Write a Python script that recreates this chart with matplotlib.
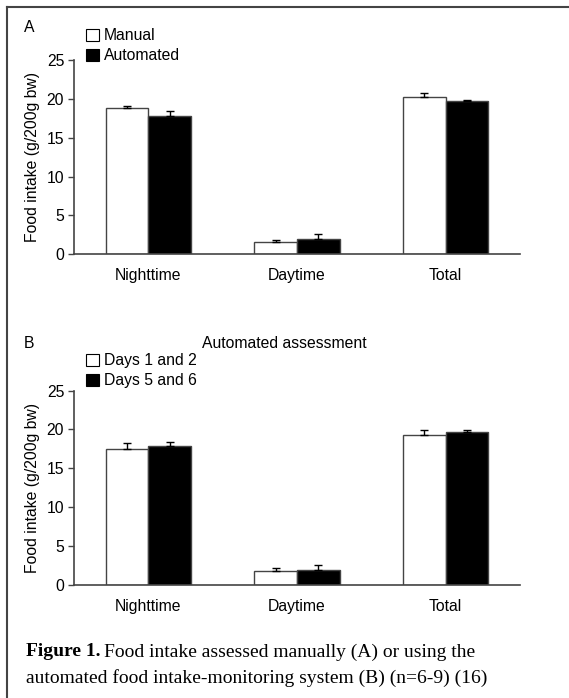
import matplotlib.pyplot as plt
import numpy as np
from matplotlib.patches import Patch
from matplotlib.lines import Line2D

plt.rcParams['font.family'] = ['Liberation Sans', 'DejaVu Sans']

categories = ['Nighttime', 'Daytime', 'Total']

# panel A: manual vs automated
a_manual = [18.8, 1.5, 20.3]
a_manual_err = [0.35, 0.3, 0.5]
a_auto = [17.8, 1.9, 19.7]
a_auto_err = [0.7, 0.7, 0.25]

# panel B: automated, days 1-2 vs days 5-6
b_days12 = [17.5, 1.8, 19.35]
b_days12_err = [0.8, 0.4, 0.6]
b_days56 = [17.85, 1.9, 19.7]
b_days56_err = [0.6, 0.7, 0.25]

yticks = [0, 5, 10, 15, 20, 25]

edge = '#444444'
fs = 11.3

fig = plt.figure(figsize=(5.69, 6.98), dpi=100)


def panel(ax, v1, e1, v2, e2):
    x = np.arange(len(categories))
    w = 0.287
    ax.bar(x - w / 2, v1, w, color='white', edgecolor=edge, linewidth=1.0,
           yerr=[np.zeros(3), e1], capsize=3,
           error_kw=dict(ecolor='black', elinewidth=1.0, capthick=1.0))
    ax.bar(x + w / 2, v2, w, color='black', edgecolor=edge, linewidth=1.0,
           yerr=[np.zeros(3), e2], capsize=3,
           error_kw=dict(ecolor='black', elinewidth=1.0, capthick=1.0))
    ax.set_xlim(-0.5, 2.5)
    ax.set_ylim(0, 25)
    ax.set_yticks(yticks)
    ax.set_xticks(x)
    ax.set_xticklabels(categories, fontsize=fs)
    ax.tick_params(axis='x', length=0, pad=10)
    ax.tick_params(axis='y', length=4, width=1, color=edge, labelsize=fs, pad=3)
    for s in ['top', 'right']:
        ax.spines[s].set_visible(False)
    for s in ['left', 'bottom']:
        ax.spines[s].set_color(edge)
        ax.spines[s].set_linewidth(1.2)
    ax.set_ylabel('Food intake (g/200g bw)', fontsize=fs, labelpad=5)
    handles = [Patch(facecolor='white', edgecolor='black', linewidth=0.8),
               Patch(facecolor='black', edgecolor='black', linewidth=0.8)]
    return handles


leg_kw = dict(loc='upper left', frameon=False, fontsize=fs,
              handlelength=0.8, handleheight=0.8, handletextpad=0.35,
              labelspacing=0.35, borderpad=0, borderaxespad=0)

axA = fig.add_axes([0.130, 0.636, 0.784, 0.2775])
hA = panel(axA, a_manual, a_manual_err, a_auto, a_auto_err)
fig.legend(hA, ['Manual', 'Automated'],
           bbox_to_anchor=(86 / 569, 1 - 28 / 698), **leg_kw)

axB = fig.add_axes([0.130, 0.1623, 0.784, 0.278])
hB = panel(axB, b_days12, b_days12_err, b_days56, b_days56_err)
fig.legend(hB, ['Days 1 and 2', 'Days 5 and 6'],
           bbox_to_anchor=(86 / 569, 1 - 353 / 698), **leg_kw)

fig.text(24 / 569, 1 - 27 / 698, 'A', fontsize=fs, va='center')
fig.text(24 / 569, 1 - 343 / 698, 'B', fontsize=fs, va='center')
fig.text(284 / 569, 1 - 343 / 698, 'Automated assessment', fontsize=fs,
         ha='center', va='center')

# caption
serif = ['Liberation Serif', 'DejaVu Serif']
cap_fs = 14
t1 = fig.text(26 / 569, 1 - 652 / 698, 'Figure 1.', fontsize=cap_fs,
              family=serif, weight='bold', va='center')
fig.canvas.draw()
bb = t1.get_window_extent()
x_after = (bb.x1 + 4) / fig.bbox.width
fig.text(x_after, 1 - 652 / 698, 'Food intake assessed manually (A) or using the',
         fontsize=cap_fs, family=serif, va='center')
fig.text(26 / 569, 1 - 678 / 698,
         'automated food intake-monitoring system (B) (n=6-9) (16)',
         fontsize=cap_fs, family=serif, va='center')

# frame around figure (left and top)
fig.add_artist(Line2D([7 / 569, 7 / 569], [0, 1 - 7 / 698], color=edge,
                      linewidth=1.5, transform=fig.transFigure))
fig.add_artist(Line2D([7 / 569, 1], [1 - 7 / 698, 1 - 7 / 698], color=edge,
                      linewidth=1.5, transform=fig.transFigure))

fig.savefig('out.png', dpi=100)
